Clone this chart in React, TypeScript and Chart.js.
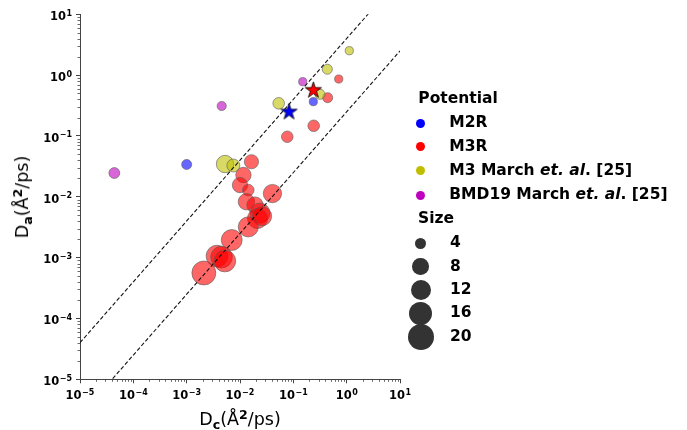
import React, { useEffect, useRef } from "react";
import { Chart, registerables } from "chart.js";

Chart.register(...registerables);

// ---------------- data ----------------
const M2R_X = [0.001, 0.237];
const M2R_Y = [0.034, 0.366];
const M2R_SIZE = [3, 2];

const M3R_X = [0.71, 0.44, 0.241, 0.077, 0.0164, 0.0116, 0.01, 0.0143, 0.0406, 0.0132, 0.0191, 0.0237, 0.0213, 0.0259, 0.0143, 0.007, 0.0037, 0.0045, 0.0052, 0.0021];
const M3R_Y = [0.863, 0.426, 0.147, 0.097, 0.0377, 0.0228, 0.0156, 0.0129, 0.0113, 0.0083, 0.0073, 0.0054, 0.0044, 0.0048, 0.0032, 0.00195, 0.00106, 0.00102, 0.00088, 0.00056];
const M3R_SIZE = [2, 3, 4, 4, 6, 7, 7, 4, 10, 8, 8, 12, 12, 11, 12, 13, 14, 14, 14, 17];

const M3_MARCH_X = [1.12, 0.434, 0.316, 0.0532, 0.00524, 0.0075];
const M3_MARCH_Y = [2.52, 1.25, 0.484, 0.344, 0.0346, 0.0327];
const M3_MARCH_SIZE = [2, 3, 3, 4, 9, 5];

const BMD19_X = [0.15, 0.00454, 0.000044];
const BMD19_Y = [0.78, 0.311, 0.0246];
const BMD19_SIZE = [2, 2.5, 3.5];

const STAR_X = [0.083, 0.237];
const STAR_Y = [0.248, 0.563];

const GUIDE_FACTORS = [4, 0.25];
const GUIDE_X = [1e-5, 10];

const TICK_EXPONENTS = [-5, -4, -3, -2, -1, 0, 1];
const MINOR_DECADES = [-5, -4, -3, -2, -1, 0];
const SIZE_LEGEND = [4, 8, 12, 16, 20];
const POTENTIALS = ["M2R", "M3R", "M3 March et. al. [25]", "BMD19 March et. al. [25]"];

// ---------------- styles ----------------
const SOLID = ["#0000ff", "#ff0000", "#bfbf00", "#bf00bf"];
const FILL = ["rgba(0,0,255,0.6)", "rgba(255,0,0,0.6)", "rgba(191,191,0,0.6)", "rgba(191,0,191,0.6)"];
const EDGE = "rgba(90,90,90,0.6)";
const AXIS = "#444";
const FONT = "'DejaVu Sans', sans-serif";
const radius = (s: number) => 2.9 * Math.sqrt(s);

function makeStar(fill: string, R: number) {
  const size = Math.ceil(2 * R + 4);
  const c = document.createElement("canvas");
  c.width = size;
  c.height = size;
  const g = c.getContext("2d")!;
  const cx = size / 2, cy = size / 2, r = R * 0.382;
  g.beginPath();
  for (let i = 0; i < 10; i++) {
    const a = -Math.PI / 2 + (i * Math.PI) / 5;
    const rr = i % 2 === 0 ? R : r;
    const px = cx + rr * Math.cos(a), py = cy + rr * Math.sin(a);
    if (i === 0) g.moveTo(px, py); else g.lineTo(px, py);
  }
  g.closePath();
  g.fillStyle = fill;
  g.fill();
  g.lineWidth = 0.8;
  g.strokeStyle = "#000";
  g.stroke();
  return c;
}

const minorTicks = {
  id: "minorTicks",
  afterDraw(chart: any) {
    const ctx = chart.ctx;
    const xs = chart.scales.x, ys = chart.scales.y;
    ctx.save();
    ctx.strokeStyle = AXIS;
    ctx.lineWidth = 0.8;
    ctx.beginPath();
    for (const e of MINOR_DECADES) {
      for (let k = 2; k <= 9; k++) {
        const v = k * Math.pow(10, e);
        const px = Math.round(xs.getPixelForValue(v)) + 0.5;
        ctx.moveTo(px, xs.top);
        ctx.lineTo(px, xs.top + 2.5);
        const py = Math.round(ys.getPixelForValue(v)) + 0.5;
        ctx.moveTo(ys.right - 2.5, py);
        ctx.lineTo(ys.right, py);
      }
    }
    ctx.stroke();
    ctx.restore();
  },
};

// tick labels "10" with a raised exponent, placed with the scales' own pixel mapping
const tickLabels = {
  id: "tickLabels",
  afterDraw(chart: any) {
    const ctx = chart.ctx;
    const xs = chart.scales.x, ys = chart.scales.y;
    const baseFont = `bold 11.5px ${FONT}`;
    const expFont = `bold 8px ${FONT}`;
    ctx.save();
    ctx.fillStyle = "#000";
    ctx.textBaseline = "alphabetic";
    ctx.textAlign = "left";
    const draw = (v: number, ax: number, by: number, align: "center" | "right") => {
      const e = String(Math.round(Math.log10(v))).replace("-", "\u2212");
      ctx.font = baseFont;
      const wb = ctx.measureText("10").width;
      ctx.font = expFont;
      const we = ctx.measureText(e).width;
      const total = wb + 0.5 + we;
      const left = align === "center" ? ax - total / 2 : ax - total;
      ctx.font = baseFont;
      ctx.fillText("10", left, by);
      ctx.font = expFont;
      ctx.fillText(e, left + wb + 0.5, by - 4.2);
    };
    for (const t of xs.ticks) draw(t.value, xs.getPixelForValue(t.value), xs.top + 19.7, "center");
    for (const t of ys.ticks) draw(t.value, ys.right - 8, ys.getPixelForValue(t.value) + 5.7, "right");
    ctx.restore();
  },
};

const axisOpts = (pos: "bottom" | "left") => ({
  type: "logarithmic" as const,
  position: pos,
  min: 1e-5,
  max: 10,
  afterBuildTicks: (sc: any) => {
    sc.ticks = TICK_EXPONENTS.map((e) => ({ value: Math.pow(10, e) }));
  },
  afterFit: (sc: any) => {
    if (pos === "bottom") sc.height = 430 - 379.3;
    else sc.width = 80;
  },
  ticks: { display: false, autoSkip: false, maxRotation: 0 },
  grid: {
    display: true,
    drawOnChartArea: false,
    drawTicks: true,
    tickLength: 4,
    tickColor: AXIS,
    tickWidth: 1,
  },
  border: { display: true, color: AXIS, width: 1 },
});

const series = [
  { x: M2R_X, y: M2R_Y, s: M2R_SIZE },
  { x: M3R_X, y: M3R_Y, s: M3R_SIZE },
  { x: M3_MARCH_X, y: M3_MARCH_Y, s: M3_MARCH_SIZE },
  { x: BMD19_X, y: BMD19_Y, s: BMD19_SIZE },
];

function LegendLabel({ text }: { text: string }) {
  const idx = text.indexOf("et. al");
  if (idx < 0) return <>{text}</>;
  return (
    <>
      {text.slice(0, idx)}
      <i>et. al</i>
      {text.slice(idx + 6)}
    </>
  );
}

export default function App() {
  const ref = useRef<HTMLCanvasElement>(null);

  useEffect(() => {
    if (!ref.current) return;
    const stars = [makeStar("#0000ff", 8.5), makeStar("#ff0000", 8.5)];
    const chart = new Chart(ref.current, {
      type: "bubble",
      data: {
        datasets: [
          {
            type: "scatter",
            data: STAR_X.map((x, i) => ({ x, y: STAR_Y[i] })),
            pointStyle: stars as any,
            pointRadius: 9,
            order: 0,
          } as any,
          ...GUIDE_FACTORS.map((f) => ({
            type: "line",
            data: GUIDE_X.map((x) => ({ x, y: f * x })),
            borderColor: "#111",
            borderWidth: 1.1,
            borderDash: [4, 2.2],
            pointRadius: 0,
            fill: false,
            tension: 0,
            order: 1,
          })),
          ...series.map((sr, i) => ({
            type: "bubble",
            data: sr.x.map((x, j) => ({ x, y: sr.y[j], r: radius(sr.s[j]) })),
            backgroundColor: FILL[i],
            borderColor: EDGE,
            borderWidth: 1,
            order: 10 - i,
          })),
        ] as any,
      },
      options: {
        animation: false,
        responsive: false,
        devicePixelRatio: 1,
        events: [],
        layout: { padding: { left: 0, top: 14.3, right: 287, bottom: 0 } },
        plugins: { legend: { display: false }, tooltip: { enabled: false } },
        scales: { x: axisOpts("bottom") as any, y: axisOpts("left") as any },
      },
      plugins: [minorTicks, tickLabels],
    });
    return () => chart.destroy();
  }, []);

  const dotRows = [123.3, 146.7, 170.7, 195.7];
  const textRows = [122.2, 145.5, 169.7, 194.2];
  const sizeText = [242.2, 265.5, 288.8, 312.2, 335.5];
  const sizeDots = [243.3, 266.7, 290.3, 313.8, 337.2];

  const txt = (top: number, left: number, content: React.ReactNode, key?: any) => (
    <div
      key={key}
      style={{
        position: "absolute",
        left,
        top,
        transform: "translateY(-50%)",
        fontFamily: FONT,
        fontWeight: "bold",
        fontSize: 15.5,
        lineHeight: "normal",
        whiteSpace: "nowrap",
        color: "#000",
      }}
    >
      {content}
    </div>
  );

  const dot = (cx: number, cy: number, d: number, color: string, key: any) => (
    <div
      key={key}
      style={{
        position: "absolute",
        left: cx - d / 2,
        top: cy - d / 2,
        width: d,
        height: d,
        borderRadius: "50%",
        background: color,
      }}
    />
  );

  const subStyle: React.CSSProperties = { fontSize: "0.72em", fontWeight: "bold", position: "relative", top: "0.3em" };
  const supStyle: React.CSSProperties = { fontSize: "0.72em", fontWeight: "bold", position: "relative", top: "-0.45em" };
  const titleStyle: React.CSSProperties = {
    position: "absolute",
    fontFamily: FONT,
    fontSize: 17.5,
    lineHeight: "normal",
    whiteSpace: "nowrap",
    color: "#000",
  };

  return (
    <div style={{ position: "absolute", left: 0, top: 0, width: 687, height: 430, background: "#fff", overflow: "hidden" }}>
      <canvas ref={ref} width={687} height={430} style={{ position: "absolute", left: 0, top: 0, display: "block" }} />
      <div style={{ ...titleStyle, left: 22, top: 197, transform: "translate(-50%,-50%) rotate(-90deg)" }}>
        D<span style={subStyle}>a</span>(Å<span style={supStyle}>2</span>/ps)
      </div>
      <div style={{ ...titleStyle, left: 240, top: 419, transform: "translate(-50%,-50%)" }}>
        D<span style={subStyle}>c</span>(Å<span style={supStyle}>2</span>/ps)
      </div>
      {txt(97.5, 418.3, "Potential")}
      {POTENTIALS.map((p, i) => dot(420.7, dotRows[i], 9, SOLID[i], "d" + i))}
      {POTENTIALS.map((p, i) => txt(textRows[i], 449.3, <LegendLabel text={p} />, "t" + i))}
      {txt(218, 418, "Size")}
      {SIZE_LEGEND.map((s, i) => dot(420.7, sizeDots[i], 2 * radius(s), "#333333", "s" + i))}
      {SIZE_LEGEND.map((s, i) => txt(sizeText[i], 450, String(s), "n" + i))}
    </div>
  );
}
